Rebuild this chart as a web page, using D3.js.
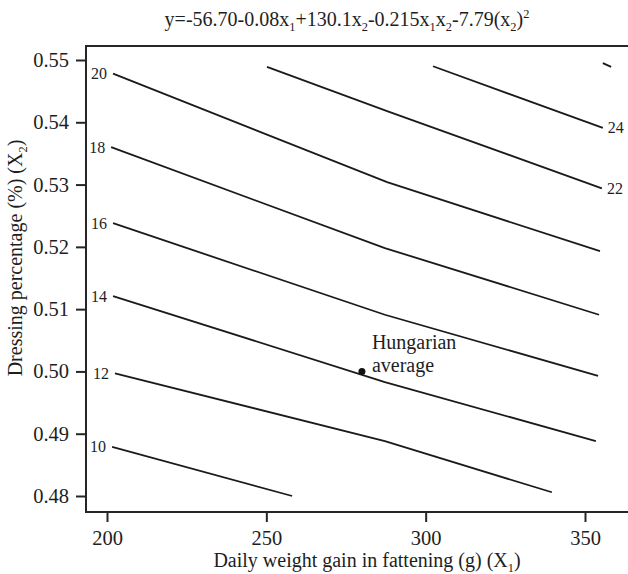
<!DOCTYPE html>
<html>
<head>
<meta charset="utf-8">
<script src="https://cdn.jsdelivr.net/npm/d3@7"></script>
<style>
  html, body { margin: 0; padding: 0; background: #fff; }
  svg { display: block; }
  text { font-family: "Liberation Serif", "Times New Roman", serif; fill: #1e1e1e; }
</style>
</head>
<body>
<svg id="chart" width="628" height="574"></svg>
<script>
// ---- data ----
const xTicks = [200, 250, 300, 350];
const yTicks = [0.48, 0.49, 0.50, 0.51, 0.52, 0.53, 0.54, 0.55];
const contourLevels = [10, 12, 14, 16, 18, 20, 22, 24, 26];
// each contour as [x1, x2] pairs
const contour10 = [[201.6, 0.4879], [258.1, 0.4800]];
const contour12 = [[202.5, 0.4997], [287.2, 0.4888], [339.6, 0.4806]];
const contour14 = [[201.9, 0.5121], [287.2, 0.4983], [353.4, 0.4888]];
const contour16 = [[201.9, 0.5238], [287.2, 0.5091], [354.1, 0.4993]];
const contour18 = [[201.3, 0.5360], [287.2, 0.5198], [354.4, 0.5091]];
const contour20 = [[201.9, 0.5478], [287.9, 0.5304], [354.7, 0.5193]];
const contour22 = [[250.2, 0.5489], [287.9, 0.5418], [355.3, 0.5294]];
const contour24 = [[302.3, 0.5490], [355.6, 0.5391]];
const contour26 = [[355.6, 0.5495], [358.2, 0.5489]];
const contourLines = [contour10, contour12, contour14, contour16, contour18, contour20, contour22, contour24, contour26];
// where each level is labelled: "start", "end" or none
const labelSide = ["start", "start", "start", "start", "start", "start", "end", "end", null];
const pointLabel = ["Hungarian", "average"];
const pointX1 = [280];
const pointX2 = [0.50];

// ---- layout ----
const svg = d3.select("#chart");
const frame = { left: 86, top: 46, bottom: 512, right: 628 };
const x = d3.scaleLinear().domain([200, 350]).range([107, 585]);
const y = d3.scaleLinear().domain([0.48, 0.55]).range([496, 60]);
const ink = "#1e1e1e";

// frame (right side falls outside the picture)
svg.append("path")
  .attr("d", `M${frame.right},${frame.top}H${frame.left}V${frame.bottom}H${frame.right}`)
  .attr("fill", "none").attr("stroke", "#262626").attr("stroke-width", 2);

// axes
const xAxis = svg.append("g").attr("transform", `translate(0,${frame.bottom})`)
  .call(d3.axisBottom(x).tickValues(xTicks).tickSize(10).tickPadding(8).tickFormat(d3.format("d")));
const yAxis = svg.append("g").attr("transform", `translate(${frame.left},0)`)
  .call(d3.axisLeft(y).tickValues(yTicks).tickSize(10).tickPadding(7).tickFormat(d3.format(".2f")));
[xAxis, yAxis].forEach(g => {
  g.select(".domain").remove();
  g.selectAll(".tick line").attr("stroke", "#262626").attr("stroke-width", 2);
  g.selectAll(".tick text").style("font-family", "'Liberation Serif', serif")
    .style("font-size", "20.5px").attr("fill", ink);
});

// contour lines
const line = d3.line().x(d => x(d[0])).y(d => y(d[1]));
svg.append("g").selectAll("path").data(contourLines).join("path")
  .attr("d", line).attr("fill", "none").attr("stroke", "#1a1a1a").attr("stroke-width", 1.8);

// contour labels
const labG = svg.append("g");
contourLines.forEach((pts, i) => {
  const side = labelSide[i];
  if (!side) return;
  const p = side === "start" ? pts[0] : pts[pts.length - 1];
  labG.append("text")
    .attr("x", x(p[0]) + (side === "start" ? -6 : 5))
    .attr("y", y(p[1]) + 5.5)
    .attr("text-anchor", side === "start" ? "end" : "start")
    .style("font-size", "16px")
    .text(contourLevels[i]);
});

// Hungarian average point
svg.append("circle").attr("cx", x(pointX1[0])).attr("cy", y(pointX2[0])).attr("r", 3.5).attr("fill", "#111");
const pl = svg.append("text").attr("x", x(pointX1[0]) + 10).attr("y", y(pointX2[0]) - 22).style("font-size", "20px");
pl.selectAll("tspan").data(pointLabel).join("tspan")
  .attr("x", x(pointX1[0]) + 10).attr("dy", (d, i) => i === 0 ? 0 : 23).text(d => d);

// helper for rich text with sub/superscripts
function rich(sel, parts, size) {
  parts.forEach(p => {
    if (typeof p === "string") {
      sel.append("tspan").text(p);
    } else {
      sel.append("tspan").text(p.t)
        .style("font-size", (size * 0.62) + "px")
        .attr("baseline-shift", p.sub ? -size * 0.26 : size * 0.4);
    }
  });
}

// title
const title = svg.append("text").attr("x", 347).attr("y", 26).attr("text-anchor", "middle").style("font-size", "20px");
rich(title, ["y=-56.70-0.08x", {t: "1", sub: true}, "+130.1x", {t: "2", sub: true},
  "-0.215x", {t: "1", sub: true}, "x", {t: "2", sub: true}, "-7.79(x", {t: "2", sub: true}, ")", {t: "2", sub: false}], 20);

// x axis title
const xt = svg.append("text").attr("x", 367).attr("y", 567).attr("text-anchor", "middle").style("font-size", "20px");
rich(xt, ["Daily weight gain in fattening (g) (X", {t: "1", sub: true}, ")"], 20);

// y axis title
const yt = svg.append("text").attr("transform", "translate(22,258) rotate(-90)").attr("text-anchor", "middle").style("font-size", "20px");
rich(yt, ["Dressing percentage (%) (X", {t: "2", sub: true}, ")"], 20);
</script>
</body>
</html>
